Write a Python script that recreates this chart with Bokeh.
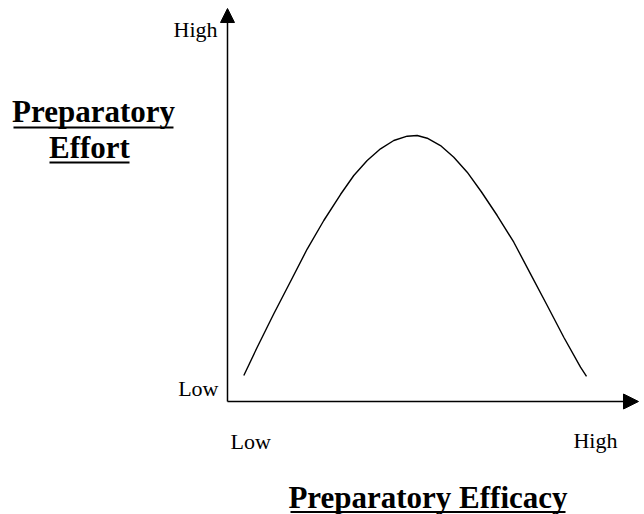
from bokeh.plotting import figure
from bokeh.models import Range1d, Arrow, NormalHead
from bokeh.core.properties import value
from bokeh.embed import file_html
from bokeh.resources import INLINE

# ---- data (in axis units 0..10) ----
efficacy = [0.397, 0.723, 1.127, 1.533, 1.939, 2.343, 2.749, 3.073, 3.399, 3.723,
            4.046, 4.372, 4.616, 4.859, 5.182, 5.506, 5.832, 6.180, 6.562, 6.966,
            7.372, 7.779, 8.182, 8.589, 8.735]
effort = [0.662, 1.382, 2.232, 3.053, 3.880, 4.606, 5.267, 5.751, 6.132, 6.430,
          6.641, 6.751, 6.768, 6.700, 6.514, 6.216, 5.835, 5.331, 4.733, 4.053,
          3.249, 2.443, 1.636, 0.873, 0.640]
x_tick_labels = ["Low", "High"]
y_tick_labels = ["Low", "High"]
x_title = "Preparatory Efficacy"
y_title_lines = ["Preparatory", "Effort"]

SERIF = value("Liberation Serif")

p = figure(width=644, height=514, output_backend="svg", toolbar_location=None,
           x_range=Range1d(-5.523, 10.146), y_range=Range1d(-2.875, 10.204),
           min_border=0, min_border_left=0, min_border_right=0,
           min_border_top=0, min_border_bottom=0)
p.axis.visible = False
p.grid.visible = False
p.outline_line_color = None
p.background_fill_color = "white"
p.border_fill_color = "white"

# axes with arrow heads
p.add_layout(Arrow(end=NormalHead(size=14, fill_color="black", line_color="black", line_width=1),
                   x_start=0, y_start=0, x_end=0, y_end=10,
                   line_color="black", line_width=1.5))
p.add_layout(Arrow(end=NormalHead(size=15, fill_color="black", line_color="black", line_width=1),
                   x_start=0, y_start=0, x_end=10, y_end=0,
                   line_color="black", line_width=1.5))

# curve
p.line(efficacy, effort, line_color="black", line_width=1.4, line_join="round")

# y tick labels
p.text(x=[-0.219, -0.243], y=[0.331, 9.478], text=y_tick_labels,
       text_font=SERIF, text_font_size="22px", text_align="right",
       text_baseline="alphabetic", text_color="black")
# x tick labels
p.text(x=[0.073, 8.418], y=[-1.018, -0.992], text=x_tick_labels,
       text_font=SERIF, text_font_size="22px", text_align="left",
       text_baseline="alphabetic", text_color="black")

# y title (two lines, bold, underlined)
p.text(x=[-3.260, -3.358], y=[7.367, 6.476], text=y_title_lines,
       text_font=SERIF, text_font_size="31px", text_font_style="bold",
       text_align="center", text_baseline="alphabetic", text_color="black")
p.segment(x0=[-5.207, -4.331], y0=[6.972, 6.081], x1=[-1.314, -2.384], y1=[6.972, 6.081],
          line_color="black", line_width=2)

# x title (bold, underlined)
p.text(x=[4.878], y=[-2.430], text=[x_title],
       text_font=SERIF, text_font_size="31px", text_font_style="bold",
       text_align="center", text_baseline="alphabetic", text_color="black")
p.segment(x0=[1.533], y0=[-2.812], x1=[8.224], y1=[-2.812],
          line_color="black", line_width=2)

open("out.html", "w").write(file_html(p, INLINE))
